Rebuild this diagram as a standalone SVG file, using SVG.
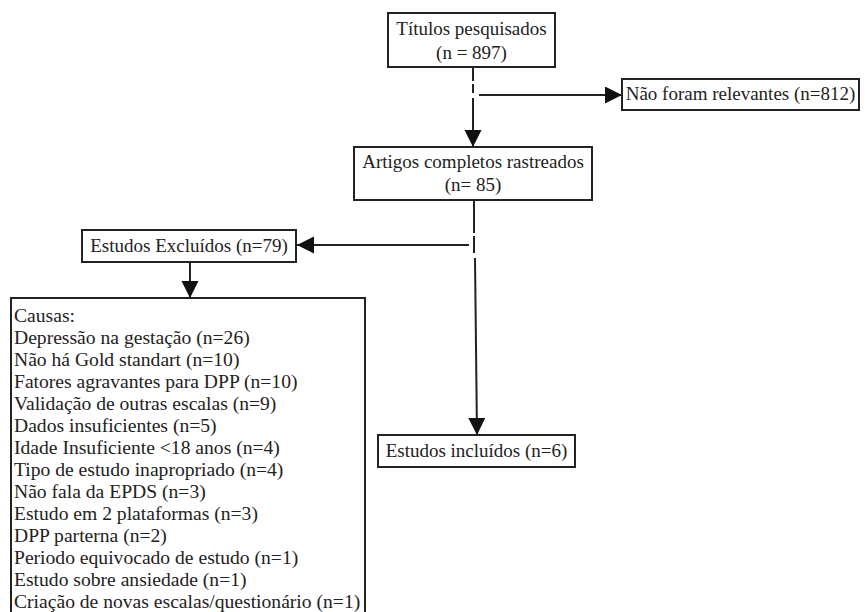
<svg xmlns="http://www.w3.org/2000/svg" width="865" height="612" viewBox="0 0 865 612">
<style>
.box{fill:#fff;stroke:#222;stroke-width:2}
.t{font-family:"Liberation Serif","Times New Roman",serif;font-size:19px;fill:#222}
.l{font-size:19.6px}
.c{text-anchor:middle}
.ln{stroke:#222;stroke-width:2;fill:none}
</style>
<defs>
<marker id="ah" markerUnits="userSpaceOnUse" markerWidth="18" markerHeight="18" refX="17" refY="8.5" orient="auto">
<path d="M0,0 L17,8.5 L0,17 z" fill="#111"/>
</marker>
</defs>
<rect width="865" height="612" fill="#fff"/>
<g id="connectors">
<line class="ln" x1="473" y1="67" x2="473" y2="81"/>
<line class="ln" x1="473" y1="84" x2="473" y2="93"/>
<line class="ln" x1="473" y1="98" x2="473" y2="147" marker-end="url(#ah)"/>
<line class="ln" x1="479" y1="95" x2="622" y2="95" marker-end="url(#ah)"/>
<line class="ln" x1="474" y1="200" x2="474" y2="233"/>
<line class="ln" x1="474" y1="236" x2="474" y2="253"/>
<line class="ln" x1="475" y1="258" x2="477" y2="435" marker-end="url(#ah)"/>
<line class="ln" x1="469" y1="245" x2="297" y2="245" marker-end="url(#ah)"/>
<line class="ln" x1="190" y1="262" x2="190" y2="298" marker-end="url(#ah)"/>
</g>
<g id="titulos">
<rect class="box" x="388" y="13" width="167" height="54"/>
<text class="t c" x="471.5" y="35">Títulos pesquisados</text>
<text class="t c" x="471.5" y="59">(n = 897)</text>
</g>
<g id="nao-relevantes">
<rect class="box" x="622" y="79" width="237" height="31"/>
<text class="t c" x="740.5" y="100">Não foram relevantes (n=812)</text>
</g>
<g id="artigos">
<rect class="box" x="354" y="147" width="238" height="53"/>
<text class="t c" x="473" y="168">Artigos completos rastreados</text>
<text class="t c" x="473" y="191">(n= 85)</text>
</g>
<g id="excluidos">
<rect class="box" x="82" y="230" width="214" height="32"/>
<text class="t c" x="189" y="252">Estudos Excluídos (n=79)</text>
</g>
<g id="causas">
<rect class="box" x="11" y="298" width="354" height="322"/>
<text class="t l" x="14" y="322">Causas:</text>
<text class="t l" x="14" y="344">Depressão na gestação (n=26)</text>
<text class="t l" x="14" y="366">Não há Gold standart (n=10)</text>
<text class="t l" x="14" y="388">Fatores agravantes para DPP (n=10)</text>
<text class="t l" x="14" y="410">Validação de outras escalas (n=9)</text>
<text class="t l" x="14" y="432">Dados insuficientes (n=5)</text>
<text class="t l" x="14" y="454">Idade Insuficiente &lt;18 anos (n=4)</text>
<text class="t l" x="14" y="476">Tipo de estudo inapropriado (n=4)</text>
<text class="t l" x="14" y="498">Não fala da EPDS (n=3)</text>
<text class="t l" x="14" y="520">Estudo em 2 plataformas (n=3)</text>
<text class="t l" x="14" y="542">DPP parterna (n=2)</text>
<text class="t l" x="14" y="564">Periodo equivocado de estudo (n=1)</text>
<text class="t l" x="14" y="586">Estudo sobre ansiedade (n=1)</text>
<text class="t l" x="14" y="608">Criação de novas escalas/questionário (n=1)</text>
</g>
<g id="incluidos">
<rect class="box" x="378" y="435" width="197" height="32"/>
<text class="t c" x="476.5" y="457">Estudos incluídos (n=6)</text>
</g>
</svg>
